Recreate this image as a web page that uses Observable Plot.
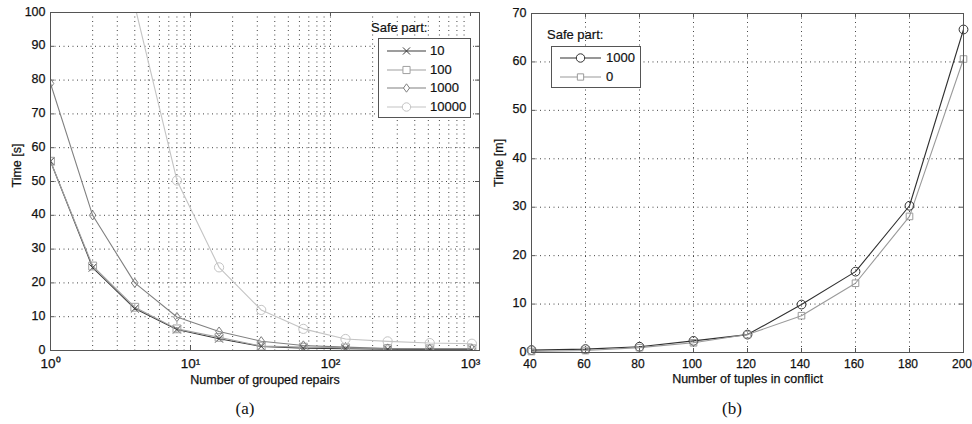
<!DOCTYPE html>
<html><head><meta charset="utf-8">
<script src="https://cdn.jsdelivr.net/npm/d3@7"></script>
<script src="https://cdn.jsdelivr.net/npm/@observablehq/plot@0.6"></script>
<style>
body{margin:0;background:#fff;font-family:"Liberation Sans",Arial,Helvetica,sans-serif;color:#111}
#wrap{position:relative;width:972px;height:424px;overflow:hidden;background:#fff}
.panel{position:absolute;top:0}
.panel svg text{stroke:#111;stroke-width:0.25px}
.cap{position:absolute;font-family:"Liberation Serif","Times New Roman",serif;font-size:17px;top:399px;transform:translateX(-50%)}
.legtitle{position:absolute;font-size:13px;line-height:15px;white-space:nowrap;-webkit-text-stroke:0.2px #111}
.legbox{position:absolute;border:1px solid #555;background:#fff;box-sizing:border-box}
.legrow{position:absolute;left:0;height:18px;width:100%}
.legrow svg{position:absolute;left:0;top:0}
.legrow span{position:absolute;font-size:13px;line-height:18px;top:0;-webkit-text-stroke:0.2px #111}
</style></head>
<body><div id="wrap"></div>
<script>
// ---------- data (a) ----------
const groupSizes = [1, 2, 4, 8, 16, 32, 64, 128, 256, 512, 1024];
const safe10     = [56, 24.5, 12.4, 6.2, 3.5, 1.2, 0.7, 0.5, 0.4, 0.3, 0.3];
const safe100    = [56, 25, 12.8, 6.4, 3.9, 1.3, 1.0, 0.8, 0.6, 0.5, 0.5];
const safe1000   = [79, 40, 20, 9.9, 5.6, 2.75, 1.5, 1.0, 0.6, 0.5, 0.5];
const safe10000  = [null, null, 102, 50.3, 24.6, 12, 6.4, 3.4, 2.7, 2.2, 2.0];
const seriesA = ["10", "100", "1000", "10000"];
const xTicksA = [1, 10, 100, 1000];
const xTickLabelsA = ["10\u2070", "10\u00b9", "10\u00b2", "10\u00b3"];
const xMinorA = [2,3,4,5,6,7,8,9,10,20,30,40,50,60,70,80,90,100,200,300,400,500,600,700,800,900];
const yTicksA = [0,10,20,30,40,50,60,70,80,90,100];

// ---------- data (b) ----------
const tuples    = [40, 60, 80, 100, 120, 140, 160, 180, 200];
const safeB1000 = [0.5, 0.7, 1.2, 2.4, 3.7, 9.9, 16.7, 30.3, 66.7];
const safeB0    = [0.2, 0.4, 1.0, 2.0, 3.7, 7.6, 14.3, 28.1, 60.6];
const seriesB = ["1000", "0"];
const xTicksB = [40, 60, 80, 100, 120, 140, 160, 180, 200];
const yTicksB = [0, 10, 20, 30, 40, 50, 60, 70];

// ---------- styles ----------
const colorsA = ["#3c3c3c", "#a0a0a0", "#808080", "#c4c4c4"];
const colorsB = ["#303030", "#9a9a9a"];
const rOf = size => Math.sqrt(size / Math.PI);
const symTimes   = {draw(c, s){const r=rOf(s)*0.85; c.moveTo(-r,-r); c.lineTo(r,r); c.moveTo(-r,r); c.lineTo(r,-r);}};
const symSquare  = {draw(c, s){const r=rOf(s)*0.85; c.rect(-r,-r,2*r,2*r);}};
const symDiamond = {draw(c, s){const r=rOf(s); const w=r*0.72; c.moveTo(0,-r); c.lineTo(w,0); c.lineTo(0,r); c.lineTo(-w,0); c.closePath();}};
const symCircle  = {draw(c, s){const r=rOf(s); c.moveTo(r,0); c.arc(0,0,r,0,2*Math.PI);}};
const symSquareSmall = {draw(c, s){const r=rOf(s)*0.75; c.rect(-r,-r,2*r,2*r);}};
const symbolsA = [symTimes, symSquare, symDiamond, symCircle];
const symbolsB = [symCircle, symSquareSmall];

const rowsA = [];
[safe10, safe100, safe1000, safe10000].forEach((vals, i) =>
  vals.forEach((v, j) => { if (v != null) rowsA.push({series: seriesA[i], x: groupSizes[j], y: v}); }));
const rowsB = [];
[safeB1000, safeB0].forEach((vals, i) =>
  vals.forEach((v, j) => rowsB.push({series: seriesB[i], x: tuples[j], y: v})));

const W = 486, H = 395;
const font = {fontFamily: "Liberation Sans, Arial, Helvetica, sans-serif", fontSize: "12.5px", color: "#111", background: "transparent", overflow: "visible"};
const gridStyle = {stroke: "#444", strokeOpacity: 1, strokeDasharray: "1,3.5", strokeWidth: 1};

function inwardTicks(xs, ys, innerW, innerH) {
  const t = 4, s = {stroke: "#555", strokeWidth: 1};
  return [
    Plot.tickX(xs, {x: d => d, insetTop: innerH - t, ...s}),
    Plot.tickX(xs, {x: d => d, insetBottom: innerH - t, ...s}),
    Plot.tickY(ys, {y: d => d, insetRight: innerW - t, ...s}),
    Plot.tickY(ys, {y: d => d, insetLeft: innerW - t, ...s})
  ];
}
const labelA = d => xTickLabelsA[xTicksA.indexOf(d)] ?? "";

// ---------- chart (a) ----------
const mA = {l: 50, r: 7, t: 12, b: 45};
const chartA = Plot.plot({
  width: W, height: H, marginLeft: mA.l, marginRight: mA.r, marginTop: mA.t, marginBottom: mA.b,
  style: font,
  x: {type: "log", domain: [1, 1160], axis: null},
  y: {domain: [0, 100]},
  color: {domain: seriesA, range: colorsA},
  symbol: {domain: seriesA, range: symbolsA},
  marks: [
    Plot.gridX(xMinorA, gridStyle),
    Plot.gridY(yTicksA, gridStyle),
    ...inwardTicks(xTicksA, yTicksA, W - mA.l - mA.r, H - mA.t - mA.b),
    Plot.line(rowsA, {x: "x", y: "y", z: "series", stroke: "series", strokeWidth: 1.1, clip: true}),
    Plot.dot(rowsA, {x: "x", y: "y", symbol: "series", stroke: "series", r: 4.6, strokeWidth: 1, fill: "none", clip: true}),
    Plot.frame({stroke: "#555", strokeWidth: 1}),
    Plot.text(xTicksA, {x: d => d, text: labelA, frameAnchor: "bottom", dy: 17.5, fontSize: 13.5}),
    Plot.axisY(yTicksA, {tickSize: 0, tickPadding: 5, label: null, fontSize: 12.5, dy: -1}),
    Plot.text(["Number of grouped repairs"], {frameAnchor: "bottom", dy: 33, fontSize: 12.5}),
    Plot.text(["Time [s]"], {frameAnchor: "left", rotate: -90, dx: -34, dy: 6, fontSize: 12.5})
  ]
});

// ---------- chart (b) ----------
const mB = {l: 45, r: 9, t: 13, b: 43};
const chartB = Plot.plot({
  width: W, height: H, marginLeft: mB.l, marginRight: mB.r, marginTop: mB.t, marginBottom: mB.b,
  style: font,
  x: {domain: [40, 200]},
  y: {domain: [0, 70]},
  color: {domain: seriesB, range: colorsB},
  symbol: {domain: seriesB, range: symbolsB},
  marks: [
    Plot.gridX(xTicksB.slice(1, -1), gridStyle),
    Plot.gridY(yTicksB.slice(1, -1), gridStyle),
    ...inwardTicks(xTicksB, yTicksB, W - mB.l - mB.r, H - mB.t - mB.b),
    Plot.line(rowsB, {x: "x", y: "y", z: "series", stroke: "series", strokeWidth: 1.1}),
    Plot.dot(rowsB, {x: "x", y: "y", symbol: "series", stroke: "series", r: 4.4, strokeWidth: 1, fill: "none"}),
    Plot.frame({stroke: "#555", strokeWidth: 1}),
    Plot.axisX(xTicksB, {tickSize: 0, tickPadding: 7, label: null, fontSize: 12, dx: -1.5}),
    Plot.axisY(yTicksB, {tickSize: 0, tickPadding: 5, label: null, fontSize: 12.5, dy: -1}),
    Plot.text(["Number of tuples in conflict"], {frameAnchor: "bottom", dy: 30, fontSize: 12.5}),
    Plot.text(["Time [m]"], {frameAnchor: "left", rotate: -90, dx: -33, dy: 4, fontSize: 12.5})
  ]
});

const wrap = document.getElementById("wrap");
const pA = document.createElement("div"); pA.className = "panel"; pA.style.left = "0px"; pA.appendChild(chartA); wrap.appendChild(pA);
const pB = document.createElement("div"); pB.className = "panel"; pB.style.left = W + "px"; pB.appendChild(chartB); wrap.appendChild(pB);

// ---------- legends ----------
function legend(o) {
  const t = document.createElement("div"); t.className = "legtitle";
  t.style.left = o.titleX + "px"; t.style.top = o.titleY + "px"; t.textContent = "Safe part:";
  wrap.appendChild(t);
  const box = document.createElement("div"); box.className = "legbox";
  Object.assign(box.style, {left: o.x + "px", top: o.y + "px", width: o.w + "px", height: o.h + "px"});
  o.names.forEach((name, i) => {
    const row = document.createElement("div"); row.className = "legrow";
    row.style.top = (o.row0 + i * o.step - 9) + "px";
    const svg = d3.create("svg").attr("width", o.lineX1 + 6).attr("height", 18);
    svg.append("line").attr("x1", o.lineX0).attr("x2", o.lineX1).attr("y1", 9).attr("y2", 9)
      .attr("stroke", o.colors[i]).attr("stroke-width", 1.1);
    svg.append("path").attr("d", d3.symbol(o.symbols[i], Math.PI * o.r * o.r)())
      .attr("transform", `translate(${(o.lineX0 + o.lineX1) / 2},9)`)
      .attr("fill", "#fff").attr("stroke", o.colors[i]);
    row.appendChild(svg.node());
    const s = document.createElement("span"); s.style.left = o.labelX + "px"; s.textContent = name;
    row.appendChild(s);
    box.appendChild(row);
  });
  wrap.appendChild(box);
}
legend({titleX: 371, titleY: 20, x: 378, y: 38, w: 93, h: 80, row0: 12, step: 18.7,
        lineX0: 8, lineX1: 47, labelX: 51, r: 4.2, names: seriesA, colors: colorsA, symbols: symbolsA});
legend({titleX: 547, titleY: 27, x: 551, y: 46, w: 90, h: 42, row0: 11, step: 19,
        lineX0: 8, lineX1: 49, labelX: 54, r: 4.2, names: seriesB, colors: colorsB, symbols: symbolsB});

// ---------- captions ----------
[["(a)", 245], ["(b)", 732]].forEach(([txt, x]) => {
  const c = document.createElement("div"); c.className = "cap"; c.style.left = x + "px"; c.textContent = txt; wrap.appendChild(c);
});
</script>
</body></html>
